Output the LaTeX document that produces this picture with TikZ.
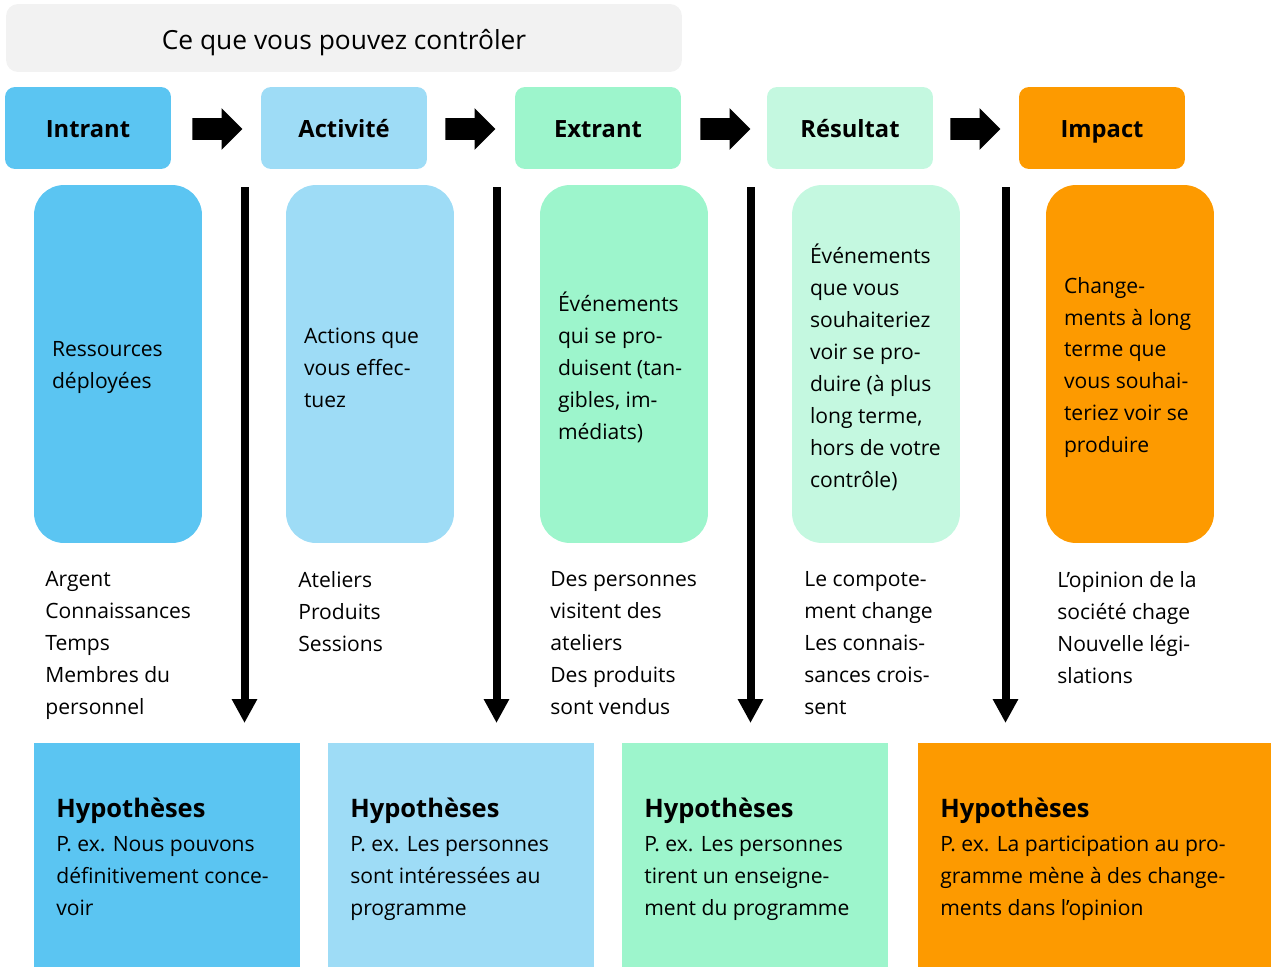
\documentclass[tikz,border=0pt]{standalone}
\usepackage{fontspec}
\setmainfont{Open Sans}
\usetikzlibrary{shapes.arrows,arrows.meta}
\definecolor{gris}{HTML}{F2F2F2}
\definecolor{bleu}{HTML}{5BC5F2}
\definecolor{bleuclair}{HTML}{9EDCF6}
\definecolor{vert}{HTML}{9DF5CC}
\definecolor{vertclair}{HTML}{C4F8E0}
\definecolor{orange}{HTML}{FD9A00}

\begin{document}
\begin{tikzpicture}[x=0.02cm, y=-0.02cm,
        cadre/.style={fill=gris, rounded corners=0.24cm, minimum width=13.52cm, minimum height=1.36cm, text height=13.5pt, text depth=0pt, font=\fontsize{15}{18}\selectfont},
        etape/.style={rounded corners=0.2cm, minimum width=3.32cm, minimum height=1.64cm, text height=10.8pt, text depth=0pt, font=\fontsize{13.5}{16}\selectfont\bfseries},
        bloc/.style={rounded corners=0.6cm, minimum width=3.36cm, minimum height=7.16cm},
        texte/.style={align=left, inner sep=0pt, font=\fontsize{12}{18.2}\selectfont},
        dedans/.style={texte, anchor=west, xshift=0.36cm, yshift=-0.07cm},
        hypo/.style={anchor=north west, minimum width=5.32cm, minimum height=4.48cm, inner sep=0pt},
        hypotitre/.style={anchor=north west, inner sep=0pt, font=\fontsize{14.5}{17}\selectfont\bfseries},
        grosse/.style={single arrow, fill=black, minimum height=1cm, inner sep=0.21cm, single arrow head extend=0.2cm},
        fleche/.style={line width=0.16cm, -{Triangle[width=0.48cm,length=0.48cm]}}
    ]
        \useasboundingbox (0,0) rectangle (1271,967);

        %draw the top banner
        \node[cadre] (controle) at (344,38) {Ce que vous pouvez contrôler};

        %draw the five steps
        \node[etape, fill=bleu] (intrant) at (88,128) {Intrant};
        \node[etape, fill=bleuclair] (activite) at (344,128) {Activité};
        \node[etape, fill=vert] (extrant) at (598,128) {Extrant};
        \node[etape, fill=vertclair] (resultat) at (850,128) {Résultat};
        \node[etape, fill=orange] (impact) at (1102,128) {Impact};

        \node[grosse] (f1) at (212,129) {};
        \node[grosse] (f2) at (465,129) {};
        \node[grosse] (f3) at (720,129) {};
        \node[grosse] (f4) at (970,129) {};

        %draw the tall boxes
        \node[bloc, fill=bleu] (b1) at (118,364) {};
        \node[bloc, fill=bleuclair] (b2) at (370,364) {};
        \node[bloc, fill=vert] (b3) at (624,364) {};
        \node[bloc, fill=vertclair] (b4) at (876,364) {};
        \node[bloc, fill=orange] (b5) at (1130,364) {};

        \node[dedans] (t1) at (b1.west) {Ressources\\déployées};
        \node[dedans] (t2) at (b2.west) {Actions que\\vous effec-\\tuez};
        \node[dedans] (t3) at (b3.west) {Événements\\qui se pro-\\duisent (tan-\\gibles, im-\\médiats)};
        \node[dedans] (t4) at (b4.west) {Événements\\que vous\\souhaiteriez\\voir se pro-\\duire (à plus\\long terme,\\hors de votre\\contrôle)};
        \node[dedans] (t5) at (b5.west) {Change-\\ments à long\\terme que\\vous souhai-\\teriez voir se\\produire};

        %draw the vertical arrows
        \coordinate (v1h) at (244.5,187); \coordinate (v1b) at (244.5,723);
        \coordinate (v2h) at (496.5,187); \coordinate (v2b) at (496.5,723);
        \coordinate (v3h) at (750.5,187); \coordinate (v3b) at (750.5,723);
        \coordinate (v4h) at (1005.5,187); \coordinate (v4b) at (1005.5,723);
        \draw[fleche] (v1h) -- (v1b);
        \draw[fleche] (v2h) -- (v2b);
        \draw[fleche] (v3h) -- (v3b);
        \draw[fleche] (v4h) -- (v4b);

        %examples under the boxes
        \node[texte, anchor=north west] (l1) at (45,571) {Argent\\Connaissances\\Temps\\Membres du\\personnel};
        \node[texte, anchor=north west] (l2) at (298,571) {Ateliers\\Produits\\Sessions};
        \node[texte, anchor=north west] (l3) at (550,571) {Des personnes\\visitent des\\ateliers\\Des produits\\sont vendus};
        \node[texte, anchor=north west] (l4) at (804,571) {Le compote-\\ment change\\Les connais-\\sances crois-\\sent};
        \node[texte, anchor=north west] (l5) at (1057,571) {L’opinion de la\\société chage\\Nouvelle légi-\\slations};

        %draw the assumptions
        \node[hypo, fill=bleu] (h1) at (34,743) {};
        \node[hypo, fill=bleuclair] (h2) at (328,743) {};
        \node[hypo, fill=vert] (h3) at (622,743) {};
        \node[hypo, fill=orange, minimum width=7.06cm] (h4) at (918,743) {};

        \node[hypotitre] (ht1) at (56,798) {Hypothèses};
        \node[hypotitre] (ht2) at (350,798) {Hypothèses};
        \node[hypotitre] (ht3) at (644,798) {Hypothèses};
        \node[hypotitre] (ht4) at (940,798) {Hypothèses};

        \node[texte, anchor=north west] (e1) at (56,836) {P. ex. Nous pouvons\\définitivement conce-\\voir};
        \node[texte, anchor=north west] (e2) at (350,836) {P. ex. Les personnes\\sont intéressées au\\programme};
        \node[texte, anchor=north west] (e3) at (644,836) {P. ex. Les personnes\\tirent un enseigne-\\ment du programme};
        \node[texte, anchor=north west] (e4) at (940,836) {P. ex. La participation au pro-\\gramme mène à des change-\\ments dans l’opinion};
    \end{tikzpicture}
\end{document}
